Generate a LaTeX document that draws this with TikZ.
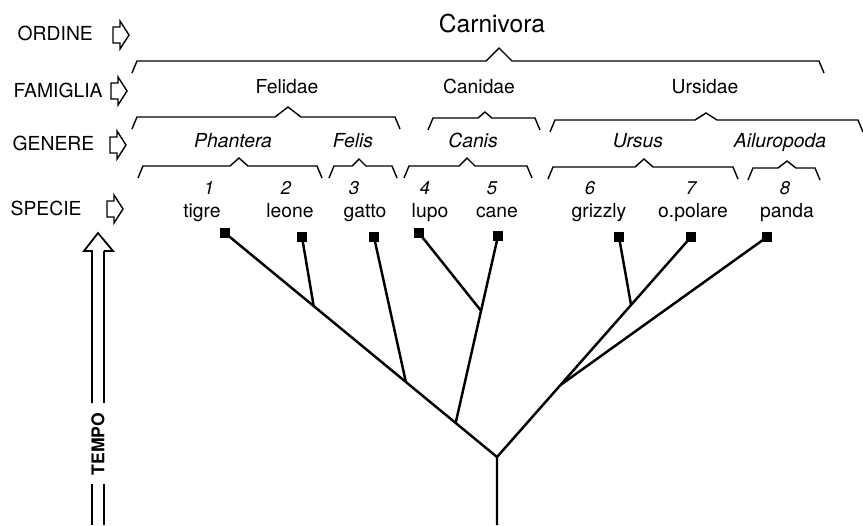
\documentclass[tikz,border=0pt]{standalone}
\usepackage{fontspec}
\setmainfont{TeX Gyre Heros}
\usetikzlibrary{calc}

\begin{document}
\begin{tikzpicture}[x=0.02cm, y=-0.02cm, line width=0.8pt,
  rango/.style={anchor=base west, inner sep=0pt, font=\fontsize{11}{13}\selectfont},
  taxon/.style={anchor=base, font=\fontsize{11}{13}\selectfont},
  gen/.style={anchor=base, font=\fontsize{11}{13}\selectfont\itshape},
  num/.style={anchor=base, font=\fontsize{10.5}{12}\selectfont\itshape},
  quad/.style={fill, inner sep=0pt, minimum size=6pt},
  ramo/.style={line width=1.4pt}]
  \useasboundingbox (0,0) rectangle (863,525);
  % ranghi a sinistra
  \foreach \n/\x/\y/\t in {ord/17/40/ORDINE, fam/13/97/FAMIGLIA, gen/12/150/GENERE, spe/10/215/SPECIE}{
    \node[rango] (\n) at (\x,\y) {\t};}
  \foreach \x/\y in {113/35, 111/91, 110/145, 107/209}{
    \draw (\x,\y-8) -- ++(7,0) -- ++(0,-6) -- ++(9,14) -- ++(-9,14) -- ++(0,-6) -- ++(-7,0) -- cycle;}
  % graffe: inizio/punta/fine/quota/mezza larghezza/altezza
  \foreach \a/\p/\b/\y/\w/\h in {132/499/824/61/13/13,
      132/288/400/117/13/10, 428/485/540/118/7/6, 550/706/863/120/11/7,
      138/239/322/166/9/8, 329/359/397/166/7/7, 404/467/532/166/8/8,
      548/644/738/167/9/8, 748/787/820/168/9/7}{
    \draw (\a,\y+12) -- (\a+5,\y) -- (\p-\w,\y) -- (\p,\y-\h) -- (\p+\w,\y) -- (\b-5,\y) -- (\b,\y+12);}
  % nomi dei taxa
  \node[taxon, font=\fontsize{14}{16}\selectfont] (carn) at (492,32) {Carnivora};
  \foreach \n/\x/\t in {fel/287/Felidae, can/479/Canidae, urs/705/Ursidae}{
    \node[taxon] (\n) at (\x,93) {\t};}
  \foreach \n/\x/\t in {pha/233/Phantera, fls/353/Felis, cns/473/Canis, ursus/638/Ursus, ail/780/Ailuropoda}{
    \node[gen] (\n) at (\x,147) {\t};}
  % specie
  \foreach \i/\xn/\x/\t in {1/209/202/tigre, 2/286/290/leone, 3/354/365/gatto, 4/425/430/lupo,
      5/492/497/cane, 6/590/599/grizzly, 7/691/693/o.polare, 8/785/787/panda}{
    \node[num] (n\i) at (\xn,194) {\i};
    \node[taxon] (t\i) at (\x,217) {\t};}
  % albero
  \foreach \i/\x/\y in {1/225/233, 2/302/237, 3/374/237, 4/419/233, 5/498/236, 6/619/237, 7/691/237, 8/767/237}{
    \node[quad] (s\i) at (\x,\y) {};}
  \coordinate (base) at (497,525);
  \coordinate (root) at (497,457);
  \coordinate (j12) at ($(root)!0.674!(s1)$);
  \coordinate (j3) at ($(root)!0.335!(s1)$);
  \coordinate (jcan) at ($(root)!0.152!(s1)$);
  \coordinate (j45) at ($(jcan)!0.6!(s5)$);
  \coordinate (jurs) at ($(root)!0.327!(s7)$);
  \coordinate (j67) at ($(root)!0.691!(s7)$);
  \draw[ramo] (base) -- (root) -- (s1.center);
  \draw[ramo] (root) -- (s7.center);
  \draw[ramo] (j12) -- (s2.center);
  \draw[ramo] (j3) -- (s3.center);
  \draw[ramo] (jcan) -- (j45) -- (s5.center);
  \draw[ramo] (j45) -- (s4.center);
  \draw[ramo] (jurs) -- (s8.center);
  \draw[ramo] (j67) -- (s6.center);
  % freccia del tempo
  \node[rotate=90, font=\fontsize{10}{12}\selectfont\bfseries] (tempo) at (98,444) {TEMPO};
  \draw[line width=1pt] (92,403) -- (92,251) -- (84,251) -- (98,233) -- (113,251) -- (104,251);
  \draw[line width=1.6pt] (104,251) -- (104,403);
  \draw[line width=1pt] (92,484) -- (92,525);
  \draw[line width=1.6pt] (104,484) -- (104,525);
\end{tikzpicture}
\end{document}
